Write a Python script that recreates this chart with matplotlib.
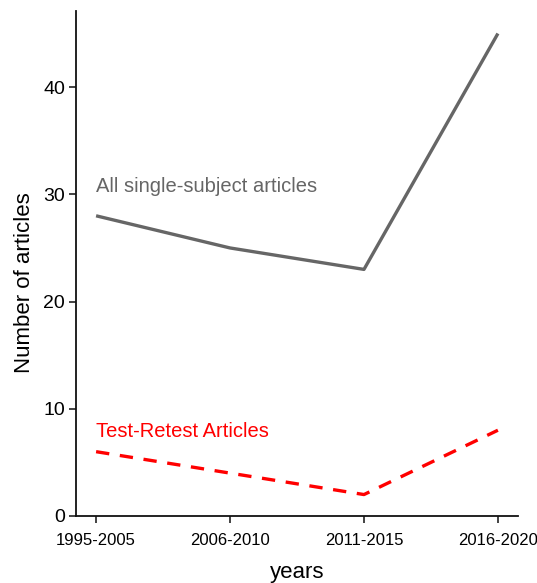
import matplotlib
matplotlib.use("Agg")
import matplotlib.pyplot as plt

categories = ["1995-2005", "2006-2010", "2011-2015", "2016-2020"]
all_articles = [28, 25, 23, 45]
test_retest = [6, 4, 2, 8]
yticks = [0, 10, 20, 30, 40]

plt.rcParams['font.family'] = ['Liberation Sans', 'DejaVu Sans']

fig = plt.figure(figsize=(5.37, 5.83), dpi=100)
ax = fig.add_axes([76/537, (583-516)/583, (518-76)/537, (516-11)/583])

x = list(range(len(categories)))
ax.plot(x, all_articles, color="#666666", lw=2.4, solid_capstyle="butt")
ax.plot(x, test_retest, color="#FF0000", lw=2.4, dashes=(4.0, 3.2), dash_capstyle="butt")

ax.text(0, 30.7, "All single-subject articles", color="#666666", fontsize=14.5,
        ha="left", va="center")
ax.text(0, 7.9, "Test-Retest Articles", color="#FF0000", fontsize=14.5,
        ha="left", va="center")

ax.set_xlim(-0.15, 3.15)
ax.set_ylim(0, 47.1)
ax.set_xticks(x)
ax.set_xticklabels(categories, fontsize=12)
ax.set_yticks(yticks)
ax.set_yticklabels([str(v) for v in yticks], fontsize=14)
ax.tick_params(direction="out", length=5, width=1.2, color="#222222")
ax.tick_params(axis="x", pad=7)
ax.tick_params(axis="y", pad=3)

for s in ["top", "right"]:
    ax.spines[s].set_visible(False)
for s in ["left", "bottom"]:
    ax.spines[s].set_linewidth(1.3)
    ax.spines[s].set_color("#111111")

xl = ax.set_xlabel("years", fontsize=16)
ax.xaxis.set_label_coords(0.5, -0.1225)
xl.set_va("baseline")
ax.set_ylabel("Number of articles", fontsize=16)
ax.yaxis.set_label_coords(-0.093, 0.463)

fig.savefig("out.png", dpi=100)
